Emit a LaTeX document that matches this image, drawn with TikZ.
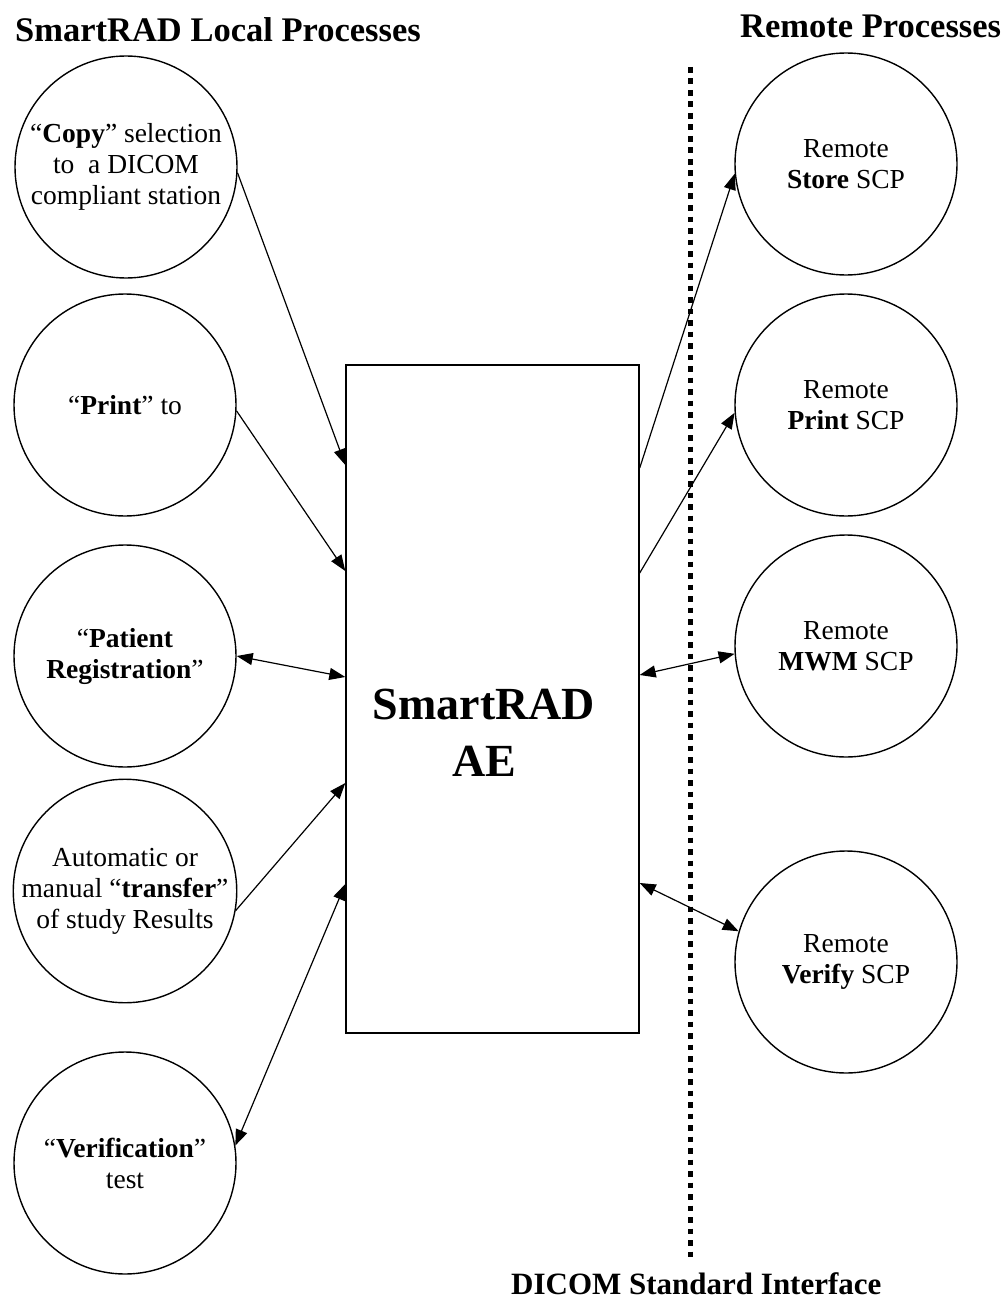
\documentclass[tikz,border=0pt]{standalone}
\usepackage{fontspec}
\setmainfont{Liberation Serif}
\usetikzlibrary{arrows.meta}
\begin{document}
\begin{tikzpicture}[x=1pt,y=-1pt,
  proc/.style={draw,circle,line width=1.4,minimum size=222,inner sep=0,align=center,
    font=\fontsize{27.5pt}{31pt}\selectfont},
  aebox/.style={draw,line width=1.4,minimum width=293,minimum height=668,inner sep=0},
  conn/.style={line width=1.2,-{Triangle[length=16,width=12]}},
  bconn/.style={line width=1.2,{Triangle[length=16,width=12]}-{Triangle[length=16,width=12]}},
  title/.style={font=\fontsize{34.5pt}{40pt}\selectfont\bfseries,inner sep=0},
  dotline/.style={line width=5.5,dash pattern=on 5.7pt off 5.8pt}]
\useasboundingbox (0,0) rectangle (1006,1308);
% titles
\node[title,anchor=base west] (tl) at (15,42) {SmartRAD Local Processes};
\node[title,anchor=base west] (tr) at (740,38) {Remote Processes};
\node[font=\fontsize{31pt}{36pt}\selectfont\bfseries,inner sep=0,anchor=base west] (tb) at (511,1294) {DICOM Standard Interface};
% dotted interface line
\coordinate (dtop) at (690.5,67);
\coordinate (dbot) at (690.5,1258);
\draw[dotline] (dtop) -- (dbot);
% central box
\node[aebox] (box) at (492.5,699) {};
\node[font=\fontsize{46pt}{57pt}\selectfont\bfseries,align=center,inner sep=0] (ae) at (484,733) {SmartRAD\\AE};
% left processes
\node[proc] (c1) at (126,167) {“\textbf{Copy}” selection\\to\ \ a DICOM\\compliant station};
\node[proc] (c2) at (125,405) {“\textbf{Print}” to};
\node[proc] (c3) at (125,656) {“\textbf{Patient}\\\textbf{Registration}”};
\node[proc] (c4) at (125,891) {Automatic or\\manual “\textbf{transfer}”\\of study Results};
\node[proc] (c5) at (125,1163) {“\textbf{Verification}”\\test};
% right processes
\node[proc] (r1) at (846,164) {Remote\\\textbf{Store} SCP};
\node[proc] (r2) at (846,405) {Remote\\\textbf{Print} SCP};
\node[proc] (r3) at (846,646) {Remote\\\textbf{MWM} SCP};
\node[proc] (r4) at (846,962) {Remote\\\textbf{Verify} SCP};
% left connectors
\draw[conn] (c1.-3) -- (box.west |- 0,465);
\draw[conn] (c2.-3) -- (box.west |- 0,571);
\draw[bconn] (c3.0) -- (box.west |- 0,677);
\draw[conn] (c4.-10) -- (box.west |- 0,783);
\draw[bconn] (c5.9) -- (box.west |- 0,884);
% right connectors
\draw[conn] (box.east |- 0,468) -- (r1.185);
\draw[conn] (box.east |- 0,573) -- (r2.184);
\draw[bconn] (box.east |- 0,675) -- (r3.184);
\draw[bconn] (box.east |- 0,883) -- (r4.164);
\end{tikzpicture}
\end{document}
